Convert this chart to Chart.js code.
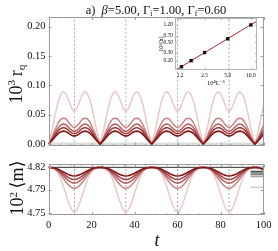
<!DOCTYPE html>
<html><head><meta charset="utf-8">
<script src="https://cdn.jsdelivr.net/npm/chart.js@4"></script>
<style>
html,body{margin:0;padding:0;background:#fff;}
#wrap{position:relative;width:278px;height:251px;overflow:hidden;font-family:'Liberation Serif','DejaVu Serif',serif;color:#111;background:#fff;}
canvas{position:absolute;}
.lbl{position:absolute;white-space:nowrap;line-height:1;}
.ctr{transform:translate(-50%,-50%);}
.rot{transform:translate(-50%,-50%) rotate(-90deg);}
.sup{font-size:0.62em;vertical-align:0.6em;}
.sub{font-size:0.62em;vertical-align:-0.3em;}
</style></head><body>
<div id="wrap">
  <canvas id="cTop" width="278" height="155" style="left:0;top:0"></canvas>
  <canvas id="cBot" width="278" height="80" style="left:0;top:155px"></canvas>
  <canvas id="cIn" width="112" height="78" style="left:150px;top:12px"></canvas>
  <div class="lbl ctr" style="left:156px;top:10.5px;font-size:12.5px">a)&nbsp; <i>β</i>=5.00, Γ<span class="sub">i</span>=1.00, Γ<span class="sub">f</span>=0.60</div>
  <div class="lbl rot" style="left:17px;top:84px;font-size:18px">10<span class="sup">3</span>&thinsp;r<span class="sub">q</span></div>
  <div class="lbl rot" style="left:17px;top:188px;font-size:18px">10<span class="sup">2</span>&thinsp;⟨m⟩</div>
  <div class="lbl ctr" style="left:157px;top:240px;font-size:18px"><i>t</i></div>
</div>
<script>
// ---------- data ----------
const t = [0,1,2,3,4,5,6,7,8,9,10,11,12,13,14,15,16,17,18,19,20,21,22,23,24,25,26,27,28,29,30,31,32,33,34,35,36,37,38,39,40,41,42,43,44,45,46,47,48,49,50,51,52,53,54,55,56,57,58,59,60,61,62,63,64,65,66,67,68,69,70,71,72,73,74,75,76,77,78,79,80,81,82,83,84,85,86,87,88,89,90,91,92,93,94,95,96,97,98,99,100];

const rqA = [
0,.014,.030,.048,.065,.078,.086,.089,.086,.078,.068,.059,.055,.059,.068,.078,.086,.089,.086,.078,.065,.048,.030,.014,
0,.014,.030,.048,.065,.078,.086,.089,.086,.078,.068,.059,.055,.059,.068,.078,.086,.089,.086,.078,.065,.048,.030,.014,
0,.014,.030,.048,.065,.078,.086,.089,.086,.078,.068,.059,.055,.059,.068,.078,.086,.089,.086,.078,.065,.048,.030,.014,
0,.014,.030,.048,.065,.078,.086,.089,.086,.078,.068,.059,.055,.059,.068,.078,.086,.089,.086,.078,.065,.048,.030,.014,
0,.014,.030,.048,.065];
const rqB = [
0,.007,.015,.024,.032,.039,.043,.044,.043,.039,.034,.030,.028,.030,.034,.039,.043,.044,.043,.039,.032,.024,.015,.007,
0,.007,.015,.024,.032,.039,.043,.044,.043,.039,.034,.030,.028,.030,.034,.039,.043,.044,.043,.039,.032,.024,.015,.007,
0,.007,.015,.024,.032,.039,.043,.044,.043,.039,.034,.030,.028,.030,.034,.039,.043,.044,.043,.039,.032,.024,.015,.007,
0,.007,.015,.024,.032,.039,.043,.044,.043,.039,.034,.030,.028,.030,.034,.039,.043,.044,.043,.039,.032,.024,.015,.007,
0,.007,.015,.024,.032];
const rqC = [
0,.0055,.0115,.0185,.025,.030,.033,.034,.033,.030,.026,.023,.0215,.023,.026,.030,.033,.034,.033,.030,.025,.0185,.0115,.0055,
0,.0055,.0115,.0185,.025,.030,.033,.034,.033,.030,.026,.023,.0215,.023,.026,.030,.033,.034,.033,.030,.025,.0185,.0115,.0055,
0,.0055,.0115,.0185,.025,.030,.033,.034,.033,.030,.026,.023,.0215,.023,.026,.030,.033,.034,.033,.030,.025,.0185,.0115,.0055,
0,.0055,.0115,.0185,.025,.030,.033,.034,.033,.030,.026,.023,.0215,.023,.026,.030,.033,.034,.033,.030,.025,.0185,.0115,.0055,
0,.0055,.0115,.0185,.025];
const rqD = [
0,.0045,.0095,.015,.0205,.0245,.027,.028,.027,.0245,.021,.0185,.0175,.0185,.021,.0245,.027,.028,.027,.0245,.0205,.015,.0095,.0045,
0,.0045,.0095,.015,.0205,.0245,.027,.028,.027,.0245,.021,.0185,.0175,.0185,.021,.0245,.027,.028,.027,.0245,.0205,.015,.0095,.0045,
0,.0045,.0095,.015,.0205,.0245,.027,.028,.027,.0245,.021,.0185,.0175,.0185,.021,.0245,.027,.028,.027,.0245,.0205,.015,.0095,.0045,
0,.0045,.0095,.015,.0205,.0245,.027,.028,.027,.0245,.021,.0185,.0175,.0185,.021,.0245,.027,.028,.027,.0245,.0205,.015,.0095,.0045,
0,.0045,.0095,.015,.0205];
const rqE = [
0,.0035,.0075,.012,.016,.0193,.0213,.022,.0213,.0193,.0165,.0145,.0135,.0145,.0165,.0193,.0213,.022,.0213,.0193,.016,.012,.0075,.0035,
0,.0035,.0075,.012,.016,.0193,.0213,.022,.0213,.0193,.0165,.0145,.0135,.0145,.0165,.0193,.0213,.022,.0213,.0193,.016,.012,.0075,.0035,
0,.0035,.0075,.012,.016,.0193,.0213,.022,.0213,.0193,.0165,.0145,.0135,.0145,.0165,.0193,.0213,.022,.0213,.0193,.016,.012,.0075,.0035,
0,.0035,.0075,.012,.016,.0193,.0213,.022,.0213,.0193,.0165,.0145,.0135,.0145,.0165,.0193,.0213,.022,.0213,.0193,.016,.012,.0075,.0035,
0,.0035,.0075,.012,.016];

const mA = [
4.82,4.8199,4.8193,4.8173,4.8138,4.8084,4.8001,4.7905,4.7803,4.7700,4.7611,4.7542,4.7515,4.7542,4.7611,4.7700,4.7803,4.7905,4.8001,4.8084,4.8138,4.8173,4.8193,4.8199,
4.82,4.8199,4.8193,4.8173,4.8138,4.8084,4.8001,4.7905,4.7803,4.7700,4.7611,4.7542,4.7515,4.7542,4.7611,4.7700,4.7803,4.7905,4.8001,4.8084,4.8138,4.8173,4.8193,4.8199,
4.82,4.8199,4.8193,4.8173,4.8138,4.8084,4.8001,4.7905,4.7803,4.7700,4.7611,4.7542,4.7515,4.7542,4.7611,4.7700,4.7803,4.7905,4.8001,4.8084,4.8138,4.8173,4.8193,4.8199,
4.82,4.8199,4.8193,4.8173,4.8138,4.8084,4.8001,4.7905,4.7803,4.7700,4.7611,4.7542,4.7515,4.7542,4.7611,4.7700,4.7803,4.7905,4.8001,4.8084,4.8138,4.8173,4.8193,4.8199,
4.82,4.8199,4.8193,4.8173,4.8138];
const mB = [
4.82,4.8198,4.8190,4.8174,4.8149,4.8114,4.8072,4.8027,4.7982,4.7944,4.7912,4.7890,4.7880,4.7890,4.7912,4.7944,4.7982,4.8027,4.8072,4.8114,4.8149,4.8174,4.8190,4.8198,
4.82,4.8198,4.8190,4.8174,4.8149,4.8114,4.8072,4.8027,4.7982,4.7944,4.7912,4.7890,4.7880,4.7890,4.7912,4.7944,4.7982,4.8027,4.8072,4.8114,4.8149,4.8174,4.8190,4.8198,
4.82,4.8198,4.8190,4.8174,4.8149,4.8114,4.8072,4.8027,4.7982,4.7944,4.7912,4.7890,4.7880,4.7890,4.7912,4.7944,4.7982,4.8027,4.8072,4.8114,4.8149,4.8174,4.8190,4.8198,
4.82,4.8198,4.8190,4.8174,4.8149,4.8114,4.8072,4.8027,4.7982,4.7944,4.7912,4.7890,4.7880,4.7890,4.7912,4.7944,4.7982,4.8027,4.8072,4.8114,4.8149,4.8174,4.8190,4.8198,
4.82,4.8198,4.8190,4.8174,4.8149];
const mC = [
4.82,4.8199,4.8193,4.8181,4.8162,4.8135,4.8104,4.8070,4.8037,4.8008,4.7984,4.7967,4.7960,4.7967,4.7984,4.8008,4.8037,4.8070,4.8104,4.8135,4.8162,4.8181,4.8193,4.8199,
4.82,4.8199,4.8193,4.8181,4.8162,4.8135,4.8104,4.8070,4.8037,4.8008,4.7984,4.7967,4.7960,4.7967,4.7984,4.8008,4.8037,4.8070,4.8104,4.8135,4.8162,4.8181,4.8193,4.8199,
4.82,4.8199,4.8193,4.8181,4.8162,4.8135,4.8104,4.8070,4.8037,4.8008,4.7984,4.7967,4.7960,4.7967,4.7984,4.8008,4.8037,4.8070,4.8104,4.8135,4.8162,4.8181,4.8193,4.8199,
4.82,4.8199,4.8193,4.8181,4.8162,4.8135,4.8104,4.8070,4.8037,4.8008,4.7984,4.7967,4.7960,4.7967,4.7984,4.8008,4.8037,4.8070,4.8104,4.8135,4.8162,4.8181,4.8193,4.8199,
4.82,4.8199,4.8193,4.8181,4.8162];
const mD = [
4.82,4.8199,4.8194,4.8185,4.8170,4.8150,4.8126,4.8100,4.8074,4.8052,4.8034,4.8021,4.8015,4.8021,4.8034,4.8052,4.8074,4.8100,4.8126,4.8150,4.8170,4.8185,4.8194,4.8199,
4.82,4.8199,4.8194,4.8185,4.8170,4.8150,4.8126,4.8100,4.8074,4.8052,4.8034,4.8021,4.8015,4.8021,4.8034,4.8052,4.8074,4.8100,4.8126,4.8150,4.8170,4.8185,4.8194,4.8199,
4.82,4.8199,4.8194,4.8185,4.8170,4.8150,4.8126,4.8100,4.8074,4.8052,4.8034,4.8021,4.8015,4.8021,4.8034,4.8052,4.8074,4.8100,4.8126,4.8150,4.8170,4.8185,4.8194,4.8199,
4.82,4.8199,4.8194,4.8185,4.8170,4.8150,4.8126,4.8100,4.8074,4.8052,4.8034,4.8021,4.8015,4.8021,4.8034,4.8052,4.8074,4.8100,4.8126,4.8150,4.8170,4.8185,4.8194,4.8199,
4.82,4.8199,4.8194,4.8185,4.8170];
const mE = [
4.82,4.8199,4.8196,4.8190,4.8179,4.8165,4.8148,4.8130,4.8112,4.8096,4.8083,4.8074,4.8070,4.8074,4.8083,4.8096,4.8112,4.8130,4.8148,4.8165,4.8179,4.8190,4.8196,4.8199,
4.82,4.8199,4.8196,4.8190,4.8179,4.8165,4.8148,4.8130,4.8112,4.8096,4.8083,4.8074,4.8070,4.8074,4.8083,4.8096,4.8112,4.8130,4.8148,4.8165,4.8179,4.8190,4.8196,4.8199,
4.82,4.8199,4.8196,4.8190,4.8179,4.8165,4.8148,4.8130,4.8112,4.8096,4.8083,4.8074,4.8070,4.8074,4.8083,4.8096,4.8112,4.8130,4.8148,4.8165,4.8179,4.8190,4.8196,4.8199,
4.82,4.8199,4.8196,4.8190,4.8179,4.8165,4.8148,4.8130,4.8112,4.8096,4.8083,4.8074,4.8070,4.8074,4.8083,4.8096,4.8112,4.8130,4.8148,4.8165,4.8179,4.8190,4.8196,4.8199,
4.82,4.8199,4.8196,4.8190,4.8179];

const refT = [0, 100];
const mRef = [4.82, 4.82];
const rqZero = [0, 0];
const avgT = [94, 100];
const mAvg = [4.8139, 4.8114, 4.8091, 4.8062, 4.7897];
const dashT = [12, 36, 60, 84];

const xTicks = [0, 20, 40, 60, 80, 100];
const xMinorTicks = [5,10,15,25,30,35,45,50,55,65,70,75,85,90,95];
const yTopTicks = [0, 0.05, 0.10, 0.15, 0.20];
const yBotTicks = [4.75, 4.786, 4.82];
const yBotLabels = ['4.75', '4.79', '4.82'];

const insetX = [1.25, 1.67, 2.5, 5.0, 10.0];
const insetY = [0.147, 0.20, 0.30, 0.60, 1.20];
const fitX = [1.04, 11.9];
const fitY = [0.123, 1.45];
const insetXTicks = [1.2, 2.5, 5.0, 10.0];
const insetXLabels = ['1.2', '2.5', '5.0', '10.0'];
const insetYTicks = [0.20, 0.30, 0.50, 0.70, 1.20];

// ---------- styles ----------
const FONT = "'Liberation Serif','DejaVu Serif',serif";
const reds = ['#e8c9c9', '#c98585', '#b45d5d', '#9f3a3a', '#841818'];
const avgGrays = ['#4a4a4a', '#666666', '#858585', '#a5a5a5', '#cfcfcf'];
const pts = (xs, ys) => xs.map((x, i) => ({x: x, y: ys[i]}));

const frameTicks = {
  id: 'frameTicks',
  afterDatasetsDraw(chart, args, o) {
    const {ctx, chartArea: a, scales} = chart;
    const x = scales.x, y = scales.y;
    const L = o.len || 3;
    ctx.save();
    ctx.strokeStyle = o.color || '#9a9a9a';
    ctx.lineWidth = 1;
    const seg = (x1, y1, x2, y2) => { ctx.beginPath(); ctx.moveTo(x1, y1); ctx.lineTo(x2, y2); ctx.stroke(); };
    (o.xMajor || []).forEach(v => { const p = Math.round(x.getPixelForValue(v)) + 0.5; seg(p, a.bottom, p, a.bottom - L); seg(p, a.top, p, a.top + L); });
    (o.xMinor || []).forEach(v => { const p = Math.round(x.getPixelForValue(v)) + 0.5; seg(p, a.bottom, p, a.bottom - L / 2); seg(p, a.top, p, a.top + L / 2); });
    (o.yMajor || []).forEach(v => { const p = Math.round(y.getPixelForValue(v)) + 0.5; seg(a.left, p, a.left + L, p); seg(a.right, p, a.right - L, p); });
    ctx.strokeRect(Math.round(a.left) + 0.5, Math.round(a.top) + 0.5, Math.round(a.right - a.left) - 1, Math.round(a.bottom - a.top) - 1);
    ctx.restore();
  }
};

const line = (xs, ys, color, width, order, dash) => ({
  data: pts(xs, ys), borderColor: color, borderWidth: width, order: order,
  borderDash: dash || [], pointRadius: 0, fill: false, tension: 0
});

// ---------- top panel ----------
const topMin = -0.0028, topMax = 0.2162;
const topSets = [
  line(t, rqE, reds[4], 1.6, 1),
  line(t, rqD, reds[3], 1.5, 2),
  line(t, rqC, reds[2], 1.5, 3),
  line(t, rqB, reds[1], 1.5, 4),
  line(t, rqA, reds[0], 1.5, 5),
  line(refT, rqZero, '#dcdcdc', 3, 20)
];
dashT.forEach(d => topSets.push(line([d, d], [topMin, topMax], '#959595', 0.8, 10, [2, 2])));

new Chart(document.getElementById('cTop'), {
  type: 'line',
  data: {datasets: topSets},
  options: {
    responsive: false, animation: false, events: [],
    layout: {padding: {top: 17, right: 14.5, bottom: 3.3, left: 0}},
    plugins: {legend: {display: false}, tooltip: {enabled: false},
      frameTicks: {xMajor: xTicks, xMinor: xMinorTicks, yMajor: yTopTicks, len: 3}},
    scales: {
      x: {type: 'linear', min: 0, max: 100, display: false},
      y: {type: 'linear', min: topMin, max: topMax,
        afterFit(s) { s.width = 48.5; },
        afterBuildTicks(s) { s.ticks = yTopTicks.map(v => ({value: v})); },
        grid: {display: false, drawTicks: false}, border: {display: false},
        ticks: {font: {family: FONT, size: 10.5}, color: '#111', padding: 3, callback: v => v.toFixed(2)}}
    }
  },
  plugins: [frameTicks]
});

// ---------- bottom panel ----------
const botMin = 4.7475, botMax = 4.8248;
const botSets = [
  line(t, mE, reds[4], 1.6, 1),
  line(t, mD, reds[3], 1.5, 2),
  line(t, mC, reds[2], 1.5, 3),
  line(t, mB, reds[1], 1.5, 4),
  line(t, mA, reds[0], 1.5, 5),
  line(refT, mRef, '#555555', 1.2, 8)
];
mAvg.forEach((v, i) => botSets.push(line(avgT, [v, v], avgGrays[i], 1.4, 6 + i * 0.1)));
dashT.forEach(d => botSets.push(line([d, d], [botMin, botMax], '#959595', 0.8, 10, [2, 2])));

new Chart(document.getElementById('cBot'), {
  type: 'line',
  data: {datasets: botSets},
  options: {
    responsive: false, animation: false, events: [],
    layout: {padding: {top: 6.7, right: 14.5, bottom: 0, left: 0}},
    plugins: {legend: {display: false}, tooltip: {enabled: false},
      frameTicks: {xMajor: xTicks, xMinor: xMinorTicks, yMajor: yBotTicks, len: 3}},
    scales: {
      x: {type: 'linear', min: 0, max: 100,
        afterFit(s) { s.height = 20; },
        afterBuildTicks(s) { s.ticks = xTicks.map(v => ({value: v})); },
        grid: {display: false, drawTicks: false}, border: {display: false},
        ticks: {font: {family: FONT, size: 10.5}, color: '#111', padding: 4, maxRotation: 0, autoSkip: false}},
      y: {type: 'linear', min: botMin, max: botMax,
        afterFit(s) { s.width = 48.5; },
        afterBuildTicks(s) { s.ticks = yBotTicks.map(v => ({value: v})); },
        grid: {display: false, drawTicks: false}, border: {display: false},
        ticks: {font: {family: FONT, size: 10.5}, color: '#111', padding: 3, callback: (v, i) => yBotLabels[i]}}
    }
  },
  plugins: [frameTicks]
});

// ---------- inset ----------
new Chart(document.getElementById('cIn'), {
  type: 'line',
  data: {datasets: [
    {data: pts(insetX, insetY), showLine: false, pointStyle: 'rect', pointRadius: 2.4,
     pointBackgroundColor: '#111', pointBorderColor: '#111', pointBorderWidth: 0, order: 1},
    {data: pts(fitX, fitY), borderColor: '#a82a2a', borderWidth: 1, pointRadius: 0, order: 2}
  ]},
  options: {
    responsive: false, animation: false, events: [],
    layout: {padding: {top: 6, right: 5, bottom: 0, left: 0}},
    plugins: {legend: {display: false}, tooltip: {enabled: false},
      frameTicks: {xMajor: insetXTicks, yMajor: insetYTicks, len: 2, color: '#b5b5b5'}},
    scales: {
      x: {type: 'logarithmic', min: 1.03, max: 12,
        afterFit(s) { s.height = 20; },
        afterBuildTicks(s) { s.ticks = insetXTicks.map(v => ({value: v})); },
        grid: {display: false, drawTicks: false}, border: {display: false},
        ticks: {font: {family: FONT, size: 5.5}, color: '#111', padding: 2, maxRotation: 0, autoSkip: false,
          callback: (v, i) => insetXLabels[i]},
        title: {display: true, text: '10⁴L⁻¹', font: {family: FONT, size: 6.5}, color: '#111', padding: {top: 0, bottom: 3}}},
      y: {type: 'logarithmic', min: 0.125, max: 1.7,
        afterFit(s) { s.width = 25; },
        afterBuildTicks(s) { s.ticks = insetYTicks.map(v => ({value: v})); },
        grid: {display: false, drawTicks: false}, border: {display: false},
        ticks: {font: {family: FONT, size: 5.5}, color: '#111', padding: 2, autoSkip: false,
          callback: v => Number(v).toFixed(2)},
        title: {display: true, text: '10³⟨h⟩', font: {family: FONT, size: 6}, color: '#111', padding: {top: 8, bottom: 0}}}
    }
  },
  plugins: [frameTicks]
});
</script>
</body></html>
